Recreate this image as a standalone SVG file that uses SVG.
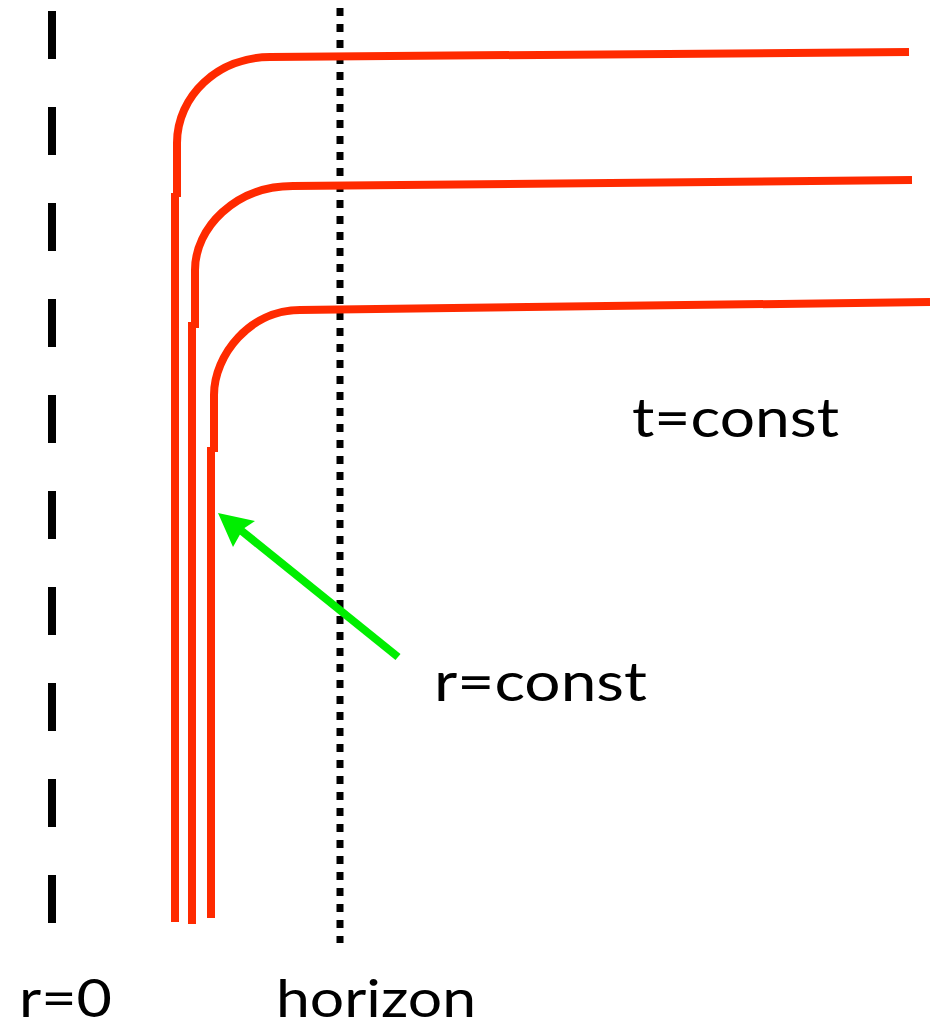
<svg xmlns="http://www.w3.org/2000/svg" width="930" height="1030" viewBox="0 0 930 1030">
<style>
.red{fill:none;stroke:#ff2a00;stroke-width:8}
.lbl{font-family:Lato,"Open Sans","Liberation Sans",sans-serif;font-size:54px;fill:#000}
.bot{font-size:52px}
</style>
<rect width="930" height="1030" fill="#fff"/>
<g id="r0-line"><line x1="52" y1="11" x2="52" y2="923" stroke="#000" stroke-width="8" stroke-dasharray="48 48"/></g>
<g id="horizon-line"><line x1="340" y1="8" x2="340" y2="943" stroke="#000" stroke-width="7" stroke-dasharray="8 8"/></g>
<g id="connectors">
<g id="curve1">
<path class="red" d="M177,197 L177,143 C177,96 218,57 270,57 L909,52"/>
<path class="red" d="M175,193 L175,922"/>
</g>
<g id="curve2">
<path class="red" d="M195,328 L195,270 C195,228 235,186 293,186 L912,180"/>
<path class="red" d="M192,322 L192,924"/>
</g>
<g id="curve3">
<path class="red" d="M214,452 L214,395 C214,355 250,310 300,310 L930,302"/>
<path class="red" d="M211,447 L211,918"/>
</g>
<g id="arrow">
<line x1="398" y1="657" x2="238" y2="528" stroke="#00ee00" stroke-width="8"/>
<polygon points="218,513 255,521 243,529 233,547" fill="#00ee00"/>
</g>
</g>
<g id="label-tconst"><text class="lbl" x="632" y="437" textLength="207" lengthAdjust="spacingAndGlyphs">t=const</text></g>
<g id="label-rconst"><text class="lbl" x="434" y="701" textLength="213" lengthAdjust="spacingAndGlyphs">r=const</text></g>
<g id="label-r0"><text class="lbl bot" x="19" y="1017" textLength="93" lengthAdjust="spacingAndGlyphs">r=0</text></g>
<g id="label-horizon"><text class="lbl bot" x="276" y="1017" textLength="200" lengthAdjust="spacingAndGlyphs">horizon</text></g>
</svg>
